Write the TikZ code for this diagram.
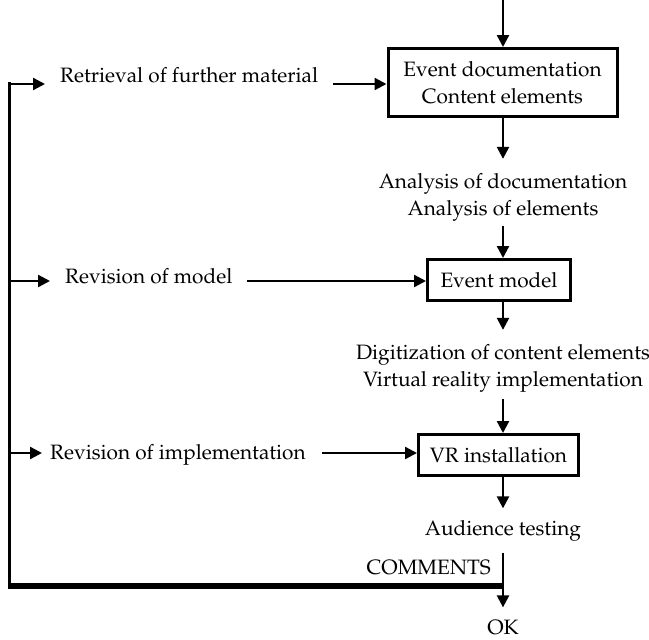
\documentclass[tikz,border=0pt]{standalone}
\usepackage[T1]{fontenc}
\usepackage{mathpazo}
\usetikzlibrary{arrows.meta}

\tikzset{
  stagebox/.style={draw, line width=3pt, inner sep=0pt, align=center},
  steptext/.style={inner sep=0pt, align=center},
  flow/.style={line width=2.4pt, -{Triangle[length=12pt,width=12pt]}},
}

\begin{document}
\begin{tikzpicture}[x=1pt, y=-1pt, font=\fontsize{20.8}{27}\selectfont]
	\useasboundingbox (0,0) rectangle (649,640);
	% boxes
	\node[stagebox, minimum width=229pt, minimum height=68pt] (doc) at (502.5,82.5) {Event documentation\\Content elements};
	\node[stagebox, minimum width=143pt, minimum height=41pt] (model) at (499,280) {Event model};
	\node[stagebox, minimum width=160pt, minimum height=41pt] (vr) at (498.5,455) {VR installation};
	% texts between the boxes
	\node[steptext] (ana) at (503,197) {Analysis of documentation\\Analysis of elements};
	\node[steptext] (dig) at (503,368) {Digitization of content elements\\Virtual reality implementation};
	\node[steptext] (aud) at (503,531) {Audience testing};
	\node[steptext] (ok) at (503,628) {OK};
	\node[steptext, anchor=east] (comm) at (491,568) {COMMENTS};
	% revisions
	\node[steptext, anchor=west] (retr) at (60,75) {Retrieval of further material};
	\node[steptext, anchor=west] (revm) at (65,276) {Revision of model};
	\node[steptext, anchor=west] (revi) at (50,455) {Revision of implementation};
	\coordinate (top) at (503,0);
	\coordinate (loop) at (9.5,586);
	\coordinate (join) at (503,586);
	\coordinate (b1) at (9.5,84);
	\coordinate (b2) at (9.5,281);
	\coordinate (b3) at (9.5,453);

	% main line
	\draw[flow] (top) -- (top |- doc.north);
	\draw[flow] (top |- doc.south) -- ([yshift=14pt]ana.north);
	\draw[flow] ([yshift=-5pt]ana.south) -- (top |- model.north);
	\draw[flow] (top |- model.south) -- ([yshift=14pt]dig.north);
	\draw[flow] ([yshift=-7pt]dig.south) -- (top |- vr.north);
	\draw[flow] (top |- vr.south) -- ([yshift=12pt]aud.north);
	\draw[flow] ([yshift=-11pt]aud.south) -- ([yshift=13pt]ok.north);

	% feedback loop
	\draw[line width=6pt] (join) -- (loop);
	\draw[line width=3.5pt] ([yshift=-3pt]loop) -- ([yshift=1.75pt]b1);
	\draw[flow] ([xshift=-1.5pt]b1) -- (45,84);
	\draw[flow] ([xshift=-1.5pt]b2) -- (50,281);
	\draw[flow] ([xshift=-1.5pt]b3) -- (42,453);
	\draw[flow] (333,84) -- (doc.west |- b1);
	\draw[flow] (247,281) -- (model.west |- b2);
	\draw[flow] (322,453) -- (vr.west |- b3);
\end{tikzpicture}
\end{document}
